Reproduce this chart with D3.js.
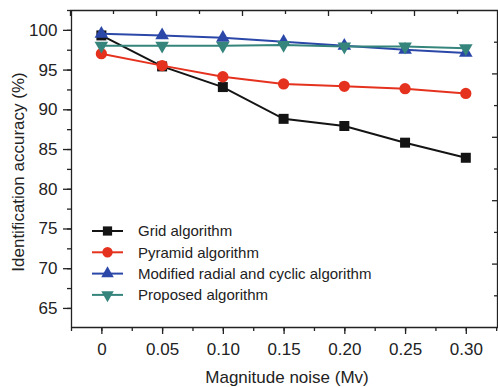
<!DOCTYPE html>
<html>
<head>
<meta charset="utf-8">
<script src="https://cdn.jsdelivr.net/npm/d3@7"></script>
<style>
  body { margin: 0; background: #fff; }
  text { font-family: "Liberation Sans", Arial, sans-serif; fill: #222; }
</style>
</head>
<body>
<div id="chart"></div>
<script>
// data
var noise = [0, 0.05, 0.10, 0.15, 0.20, 0.25, 0.30];
var noiseLabels = ["0", "0.05", "0.10", "0.15", "0.20", "0.25", "0.30"];
var gridAcc = [99.3, 95.4, 92.8, 88.8, 87.9, 85.8, 83.9];
var pyramidAcc = [97.0, 95.5, 94.1, 93.2, 92.9, 92.6, 92.0];
var modifiedAcc = [99.5, 99.3, 99.0, 98.5, 98.0, 97.5, 97.1];
var proposedAcc = [98.0, 98.0, 98.0, 98.1, 97.9, 97.9, 97.7];
var yTicks = [65, 70, 75, 80, 85, 90, 95, 100];
var seriesNames = ["Grid algorithm", "Pyramid algorithm", "Modified radial and cyclic algorithm", "Proposed algorithm"];

var width = 498, height = 387;
var margin = {left: 71, top: 10, right: 0, bottom: 60};

var svg = d3.select("#chart").append("svg")
    .attr("width", width)
    .attr("height", height);

var x = d3.scaleLinear().domain([-0.025, 0.3265]).range([margin.left, width - margin.right]);
var y = d3.scaleLinear().domain([62.6, 102.5]).range([height - margin.bottom, margin.top]);

var series = [
  {name: seriesNames[0], values: gridAcc, color: "#141414", symbol: d3.symbolSquare, size: 100, rot: 0},
  {name: seriesNames[1], values: pyramidAcc, color: "#e5321f", symbol: d3.symbolCircle, size: 100, rot: 0},
  {name: seriesNames[2], values: modifiedAcc, color: "#2b48a8", symbol: d3.symbolTriangle, size: 80, rot: 0},
  {name: seriesNames[3], values: proposedAcc, color: "#36857d", symbol: d3.symbolTriangle, size: 80, rot: 180}
];

// bottom axis
var xMinor = d3.range(-0.025, 0.326, 0.025);
var gx = svg.append("g").attr("transform", "translate(0," + y.range()[0] + ")");
gx.call(d3.axisBottom(x).tickValues(xMinor).tickSize(4).tickFormat(""));
gx.call(g => g.select(".domain").remove());
svg.append("g").attr("transform", "translate(0," + y.range()[0] + ")")
  .call(d3.axisBottom(x).tickValues(noise).tickSize(7).tickSizeOuter(0)
        .tickFormat((d, i) => noiseLabels[i]))
  .call(g => g.selectAll("text").attr("font-size", 17).attr("dy", "1.05em").attr("fill", "#222"))
  .call(g => g.selectAll("line, path").attr("stroke", "#222").attr("stroke-width", 1.3));
gx.selectAll("line").attr("stroke", "#222").attr("stroke-width", 1.3);

// left axis
var yMinor = d3.range(62.5, 102.6, 2.5);
var gyMinor = svg.append("g").attr("transform", "translate(" + x.range()[0] + ",0)")
  .call(d3.axisLeft(y).tickValues(yMinor.filter(v => v > y.domain()[0])).tickSize(4).tickFormat(""));
gyMinor.select(".domain").remove();
gyMinor.selectAll("line").attr("stroke", "#222").attr("stroke-width", 1.3);
svg.append("g").attr("transform", "translate(" + x.range()[0] + ",0)")
  .call(d3.axisLeft(y).tickValues(yTicks).tickSize(8).tickSizeOuter(0))
  .call(g => g.selectAll("text").attr("font-size", 17).attr("dx", "-0.15em").attr("fill", "#222"))
  .call(g => g.selectAll("line, path").attr("stroke", "#222").attr("stroke-width", 1.3));

// top axis (separate spacing in the original figure)
var xTop = d3.scaleLinear().domain([0, 10]).range([70, 500]);
var gt = svg.append("g").attr("transform", "translate(0," + y.range()[1] + ")")
  .call(d3.axisTop(xTop).ticks(10).tickSize(-4).tickSizeOuter(0).tickFormat(""));
gt.selectAll(".tick line").attr("y2", (d, i) => i % 2 === 0 ? 6 : 4);
gt.selectAll("line, path").attr("stroke", "#222").attr("stroke-width", 1.3);

// right axis (separate spacing in the original figure)
var yRight = d3.scaleLinear().domain([0, 10]).range([327, 10]);
var gr = svg.append("g").attr("transform", "translate(" + (width - 1) + ",0)")
  .call(d3.axisRight(yRight).tickValues([1, 2, 3, 4, 5, 6, 7, 8, 9]).tickSize(-3).tickSizeOuter(0).tickFormat(""));
gr.selectAll(".tick line").attr("x2", (d) => d % 2 === 0 ? -5 : -3);
gr.selectAll("line, path").attr("stroke", "#222").attr("stroke-width", 1.3);

// lines and markers
var line = d3.line().x((d, i) => x(noise[i])).y(d => y(d));
series.forEach(function(s) {
  svg.append("path")
    .datum(s.values)
    .attr("d", line)
    .attr("fill", "none")
    .attr("stroke", s.color)
    .attr("stroke-width", 2);
  svg.append("g").selectAll("path")
    .data(s.values)
    .join("path")
    .attr("d", d3.symbol(s.symbol, s.size))
    .attr("transform", (d, i) => "translate(" + x(noise[i]) + "," + y(d) + ") rotate(" + s.rot + ")")
    .attr("fill", s.color);
});

// legend
var legend = svg.append("g").attr("transform", "translate(92,231)");
series.forEach(function(s, i) {
  var row = legend.append("g").attr("transform", "translate(0," + i * 21.3 + ")");
  row.append("line").attr("x1", 0).attr("x2", 31).attr("stroke", s.color).attr("stroke-width", 2);
  row.append("path").attr("d", d3.symbol(s.symbol, s.size * 0.85))
    .attr("transform", "translate(15.5,0) rotate(" + s.rot + ")")
    .attr("fill", s.color);
  row.append("text").attr("x", 46).attr("dy", "0.35em").attr("font-size", 15).text(s.name);
});

// axis titles
svg.append("text")
  .attr("x", 287).attr("y", 383)
  .attr("text-anchor", "middle")
  .attr("font-size", 17)
  .text("Magnitude noise (Mv)");
svg.append("text")
  .attr("transform", "translate(24,172) rotate(-90)")
  .attr("text-anchor", "middle")
  .attr("font-size", 17)
  .text("Identification accuracy (%)");
</script>
</body>
</html>
